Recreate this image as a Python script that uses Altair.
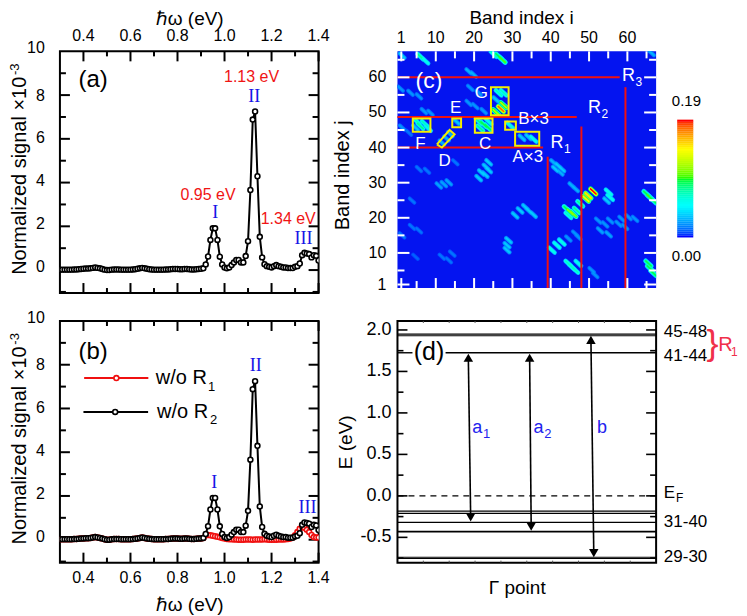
import altair as alt
import pandas as pd
import numpy as np

FONT = "Liberation Sans"
SERIF = "Liberation Serif"

# ---------- spectra (a), (b) ----------
E_START, E_COUNT = 30, 111
BASE = [.02,.02,.02,.02,.02,.02,.03,.03,.04,.05,
        .06,.07,.07,.08,.10,.12,.10,.08,.05,.02,
        .00,.00,.02,.03,.03,.03,.02,.02,.02,.02,
        .02,.03,.04,.06,.08,.10,.08,.06,.04,.03,
        .02,.02,.02,.02,.02,.03,.03,.04,.05,.05,
        .05,.04,.04,.05,.05,.04,.03,.03,.04,.05,
        .06,.08]
PEAKS = [.26,.62,1.38,1.91,1.91,1.38,.61,.26,.12,.08,
         .12,.23,.35,.46,.46,.35,.35,.64,1.32,3.66,
         6.88,7.25,4.29,1.52,.58,.27,.18,.15,.12,.18,
         .23,.18,.15,.12,.12,.09,.09,.09,.15,.18,
         .30,.68,.79,.76,.73,.58,.68,.65,.44]
RED_TAIL = [.20,.21,.20,.18,.16,.13,.11,.08,.05,.03,
            .02,.02,.01,.01,.00,.00,.00,.01,.01,.01,
            .00,.01,.01,.01,.01,.02,.01,.00,.00,.00,
            .00,.01,.01,.01,.02,.03,.06,.10,.20,.35,
            .50,.60,.55,.45,.35,.22,.12,.10,.10]
ENERGY = [(E_START + k) / 100 for k in range(E_COUNT)]
df_black = pd.DataFrame({"e": ENERGY, "v": BASE + PEAKS})
df_red = pd.DataFrame({"e": ENERGY, "v": BASE + RED_TAIL})

EV_MAJOR = [.4, .6, .8, 1.0, 1.2, 1.4]
EV_MINOR = [.5, .7, .9, 1.1, 1.3]
SIG_MAJOR = [0, 2, 4, 6, 8]
SIG_MINOR = [-1, 1, 3, 5, 7, 9]
SIG_LABELS = [0, 2, 4, 6, 8, 10]
SIG_LABEL_NUDGE = [.14, .10, .07, .03, -.03, .14]

W, H = 259, 242
H_C = 237

sx = alt.Scale(domain=[0.3, 1.4], nice=False, zero=False)
sy = alt.Scale(domain=[-1.05, 10], nice=False, zero=False)


def xtick_layers(vals, length, scale, h, color="black", width=2):
    d = pd.DataFrame({"t": vals})
    x = alt.X("t:Q", scale=scale, axis=None)
    base = alt.Chart(d).mark_rule(color=color, strokeWidth=width)
    return [base.encode(x=x, y=alt.value(0), y2=alt.value(length)),
            base.encode(x=x, y=alt.value(h), y2=alt.value(h - length))]


def ytick_layers(vals, length, scale, w, color="black", width=2):
    d = pd.DataFrame({"t": vals})
    y = alt.Y("t:Q", scale=scale, axis=None)
    base = alt.Chart(d).mark_rule(color=color, strokeWidth=width)
    return [base.encode(y=y, x=alt.value(0), x2=alt.value(length)),
            base.encode(y=y, x=alt.value(w), x2=alt.value(w - length))]


def text(xv, yv, s, sx_, sy_, size=16, color="black", font=FONT, align="center", angle=0):
    d = pd.DataFrame({"x": [xv], "y": [yv], "s": [s]})
    return alt.Chart(d).mark_text(fontSize=size, color=color, font=font, align=align,
                                  baseline="middle", angle=angle).encode(
        x=alt.X("x:Q", scale=sx_, axis=None), y=alt.Y("y:Q", scale=sy_, axis=None), text="s:N")


def series(d, color):
    x = alt.X("e:Q", scale=sx, axis=None)
    y = alt.Y("v:Q", scale=sy, axis=None)
    c = alt.Chart(d)
    return [c.mark_line(color=color, strokeWidth=2, clip=True).encode(x=x, y=y),
            c.mark_point(color=color, fill="white", filled=True, stroke=color, strokeWidth=1.6,
                         size=24, opacity=1, clip=True).encode(x=x, y=y)]


def spectrum_guides(label_v, title_v):
    out = (xtick_layers(EV_MAJOR, 10, sx, H) + xtick_layers(EV_MINOR, 5, sx, H)
           + ytick_layers(SIG_MAJOR, 10, sy, W) + ytick_layers(SIG_MINOR, 6, sy, W))
    out += [text(t, label_v, f"{t:.1f}", sx, sy, 16) for t in EV_MAJOR]
    out += [text(.236, t + n, str(t), sx, sy, 16, align="right") for t, n in zip(SIG_LABELS, SIG_LABEL_NUDGE)]
    out += [text(.852, title_v, "ℏω (eV)", sx, sy, 19),
            text(.13, 4.31, "Normalized signal ×10", sx, sy, 20, angle=270),
            text(.109, 9.18, "-3", sx, sy, 13, angle=270)]
    return out


panel_a = alt.layer(
    *spectrum_guides(10.68, 11.5), *series(df_black, "black"),
    text(.441, 8.67, "(a)", sx, sy, 24),
    text(1.115, 8.81, "1.13 eV", sx, sy, 16, "#f01414"),
    text(1.126, 7.9, "II", sx, sy, 18, "#1414e6", SERIF),
    text(.93, 3.42, "0.95 eV", sx, sy, 16, "#f01414"),
    text(.96, 2.6, "I", sx, sy, 18, "#1414e6", SERIF),
    text(1.271, 2.33, "1.34 eV", sx, sy, 16, "#f01414"),
    text(1.336, 1.41, "III", sx, sy, 18, "#1414e6", SERIF),
).properties(width=W, height=H)

legend_red = pd.DataFrame({"e": [.403, .676], "v": [7.39, 7.39]})
legend_black = pd.DataFrame({"e": [.40, .675], "v": [5.84, 5.84]})
mark_red = pd.DataFrame({"e": [.54], "v": [7.39]})
mark_black = pd.DataFrame({"e": [.535], "v": [5.84]})

panel_b = alt.layer(
    *spectrum_guides(-1.73, -2.97),
    *series(df_red, "#f01010"), *series(df_black, "black"),
    *series(legend_red, "#f01010")[:1], *series(mark_red, "#f01010")[1:],
    *series(legend_black, "black")[:1], *series(mark_black, "black")[1:],
    text(.708, 7.39, "w/o R", sx, sy, 20, align="left"),
    text(.93, 7.0, "1", sx, sy, 13, align="left"),
    text(.713, 5.84, "w/o R", sx, sy, 20, align="left"),
    text(.938, 5.45, "2", sx, sy, 13, align="left"),
    text(.441, 8.6, "(b)", sx, sy, 24),
    text(.956, 2.6, "I", sx, sy, 18, "#1414e6", SERIF),
    text(1.133, 7.92, "II", sx, sy, 18, "#1414e6", SERIF),
    text(1.353, 1.43, "III", sx, sy, 18, "#1414e6", SERIF),
).properties(width=W, height=H)

# ---------- map (c) ----------
SI = [1.2,6,7.3,25.1,26.4,27.4,66.3,18.6,19.9,.8,3.4,5.6,19,21.2,
      26.4,27.7,25.7,27.7,27,25.7,6.9,8.6,18.6,20.3,22.5,
      5.1,6,7.1,8,4.7,21.2,22.5,23.6,21.6,23.8,11.6,12.8,13.8,15.4,29.4,32.5,34.2,35.5,1.2,3,
      40.7,42,42.9,41.2,42.5,23.8,23.1,23.8,21.9,22.9,21.2,10.8,12.1,13.4,5.6,7.7,15.1,45.5,46.5,
      55.1,55.5,54.6,51.1,49.8,49.2,47.7,44.2,45.1,45.9,46.8,44.6,65,65.9,66.8,
      33.4,32,30.7,34.2,35.5,3.8,52.4,54.2,55.5,58.5,60.3,62,52.9,55.1,57.7,59.4,46.4,47.2,44.6,
      29,28.6,28.6,42.9,41.6,40.3,44.6,45.5,46.4,47.2,65.5,65.9,66.8,50.7,51.6,
      1.2,11.6,13.4,14.3,4.7,3.8,5.6]
SJ = [66.2,65.9,64.7,66.6,66,65,66.9,61.7,60.8,56.8,55.6,54.6,57,55.6,
      55.6,55.6,53.7,52.1,51,50.1,50.4,49.9,52.7,51.8,50.4,
      47.4,46.1,46.8,45.5,45.7,47.5,46.6,45.8,45.5,47.4,41.4,42.6,43.8,47.4,46.3,42.8,43,42.4,45.7,44.2,
      35.8,34.8,33.9,33.9,32.9,35.8,34.5,33.6,32.9,32.3,31.3,29.2,29.6,30.1,33.9,33.4,35.8,29.2,28.2,
      27.3,25.8,24.9,27.5,26.3,25.4,24,22.5,21.6,21.1,22.1,20.7,26.8,25.8,24.9,
      23,22.1,20.7,22.1,20.9,24.9,19.2,18.1,19.2,19.7,20.2,19.7,16.4,15.3,18.3,17.4,15.5,14.5,14.1,
      13.6,12.2,10.8,13.1,12.2,10.8,7,6,5.1,7,7,5.6,4.2,5.1,3.7,
      15,8.9,7.9,9.8,8.9,17.4,16.4]
SV = [.05,.08,.06,.07,.09,.1,.04,.04,.04,.03,.03,.03,.03,.03,
      .07,.07,.05,.12,.18,.12,.03,.03,.03,.03,.03,
      .07,.08,.07,.06,.05,.08,.09,.09,.08,.06,.04,.04,.04,.05,.06,.05,.05,.06,.03,.02,
      .04,.05,.05,.05,.04,.05,.05,.05,.05,.05,.05,.035,.035,.035,.02,.02,.02,.04,.04,
      .06,.06,.05,.19,.15,.14,.08,.09,.11,.11,.08,.07,.09,.1,.09,
      .05,.05,.05,.05,.05,.02,.03,.03,.03,.03,.03,.03,.035,.035,.03,.03,.03,.03,.03,
      .05,.05,.05,.06,.06,.06,.07,.07,.07,.06,.09,.09,.09,.03,.03,
      .02,.02,.02,.02,.015,.02,.02]

CMAP_STOPS = [0, .05, .095, .143, .19]
CMAP_COLORS = ["#0000ff", "#00ffff", "#00ff00", "#ffff00", "#ff0000"]
cscale = alt.Scale(domain=CMAP_STOPS, range=CMAP_COLORS, clamp=True)

si = alt.Scale(domain=[0, 67.5], nice=False, zero=False)
sj = alt.Scale(domain=[0, 67.4], nice=False, zero=False)
I_TICKS = [1, 10, 20, 30, 40, 50, 60]
IJ_MINOR = [5, 15, 25, 35, 45, 55, 65]

rows = []
for i0, j0, v0 in zip(SI, SJ, SV):
    shown = v0 * (.72 if v0 <= .05 else 1)
    half = .62 if v0 <= .05 else .72
    for frac, w in ((.45, 5), (.75, 3.4), (1.0, 1.6)):
        rows.append(dict(x1=i0 - half, x2=i0 + half, y1=j0 + half, y2=j0 - half, v=shown * frac,
                         w=w * (.75 + min(v0, .1) * 2.5), o=frac))
streaks = pd.DataFrame(rows).sort_values("o", kind="stable")

bg = pd.DataFrame({"a": [0], "b": [67.5], "c": [0], "d": [67.4]})
bg_layer = alt.Chart(bg).mark_rect(color="#0414f0").encode(
    x=alt.X("a:Q", scale=si, axis=None), x2="b:Q",
    y=alt.Y("c:Q", scale=sj, axis=None), y2="d:Q")

streak_layer = alt.Chart(streaks).mark_rule(strokeCap="round", clip=True).encode(
    x=alt.X("x1:Q", scale=si, axis=None), x2="x2:Q",
    y=alt.Y("y1:Q", scale=sj, axis=None), y2="y2:Q",
    color=alt.Color("v:Q", scale=cscale, legend=None),
    strokeWidth=alt.StrokeWidth("w:Q", scale=None))

RED_H = [(60, 58), (48.7, 46.8), (40, 38)]
RED_V = [(39.2, 37.4), (48, 46), (59.5, 57.2)]
rh = pd.DataFrame({"j": [r[0] for r in RED_H], "end": [r[1] for r in RED_H], "s": [0] * 3})
rv = pd.DataFrame({"i": [r[0] for r in RED_V], "top": [r[1] for r in RED_V], "s": [0] * 3})
rh_layer = alt.Chart(rh).mark_rule(color="#f01010", strokeWidth=2).encode(
    x=alt.X("s:Q", scale=si, axis=None), x2="end:Q", y=alt.Y("j:Q", scale=sj, axis=None))
rv_layer = alt.Chart(rv).mark_rule(color="#f01010", strokeWidth=2).encode(
    x=alt.X("i:Q", scale=si, axis=None), y=alt.Y("s:Q", scale=sj, axis=None), y2="top:Q")

BOX_L = [4.0, 20.2, 14.3, 24.4, 28.1, 30.7]
BOX_R = [8.6, 24.8, 16.6, 29.0, 30.9, 37.0]
BOX_T = [48.3, 48.3, 48.3, 57.2, 47.4, 44.5]
BOX_B = [44.5, 44.2, 45.8, 49.2, 45.1, 40.5]
boxes = pd.DataFrame({"l": BOX_L, "r": BOX_R, "t": BOX_T, "b": BOX_B})
box_layer = alt.Chart(boxes).mark_rect(fillOpacity=0, stroke="#f5ee00", strokeWidth=2).encode(
    x=alt.X("l:Q", scale=si, axis=None), x2="r:Q", y=alt.Y("b:Q", scale=sj, axis=None), y2="t:Q")
D_I = [10.3, 11.6, 14.9, 13.6, 10.3]
D_J = [40.9, 40.0, 43.8, 45.0, 40.9]
d_box = pd.DataFrame({"i": D_I, "j": D_J, "o": range(5)})
d_layer = alt.Chart(d_box).mark_line(color="#f5ee00", strokeWidth=2).encode(
    x=alt.X("i:Q", scale=si, axis=None), y=alt.Y("j:Q", scale=sj, axis=None), order="o:O")

bar_levels = list(np.linspace(0, .19, 60))
bar = pd.DataFrame({"v": bar_levels})
bar["a"] = 73.0
bar["b"] = 77.2
bar["lo"] = 14.4 + (47.9 - 14.4) * bar.index / 60
bar["hi"] = 14.4 + (47.9 - 14.4) * (bar.index + 1.1) / 60
bar_layer = alt.Chart(bar).mark_rect().encode(
    x=alt.X("a:Q", scale=si, axis=None), x2="b:Q",
    y=alt.Y("lo:Q", scale=sj, axis=None), y2="hi:Q",
    color=alt.Color("v:Q", scale=cscale, legend=None))


def wtext(i, j, s, size=17):
    return text(i, j, s, si, sj, size, "white")


panel_c = alt.layer(
    bg_layer, streak_layer, rh_layer, rv_layer, box_layer, d_layer, bar_layer,
    *xtick_layers(I_TICKS, 10, si, H_C, "white", 2), *xtick_layers(IJ_MINOR, 7, si, H_C, "white", 2),
    *ytick_layers(I_TICKS, 12, sj, W, "white", 2), *ytick_layers(IJ_MINOR, 7, sj, W, "white", 2),
    *[text(t, 71.2, str(t), si, sj, 16) for t in I_TICKS],
    *[text(-2.9, t, str(t), si, sj, 16, align="right") for t in I_TICKS],
    text(32.4, 77, "Band index i", si, sj, 19),
    text(-14.3, 32.1, "Band index j", si, sj, 20, angle=270),
    wtext(8.2, 59, "(c)", 23), wtext(21.9, 55.4, "G"), wtext(15.2, 51.3, "E"), wtext(6.0, 41.1, "F"),
    wtext(12.3, 36.3, "D"), wtext(22.9, 40.9, "C"), wtext(35.5, 48.2, "B×3"), wtext(34, 37.4, "A×3"),
    wtext(41.6, 41.4, "R", 18), wtext(44.3, 39.6, "1", 12), wtext(51.4, 51.3, "R", 18), wtext(54.1, 49.5, "2", 12),
    wtext(60.3, 60.3, "R", 18), wtext(63, 58.7, "3", 12),
    text(75.4, 53.2, "0.19", si, sj, 15), text(75.4, 9, "0.00", si, sj, 15),
).properties(width=W, height=H_C, view=alt.ViewConfig(stroke=None))

# ---------- levels (d) ----------
sdx = alt.Scale(domain=[0, 1], nice=False, zero=False)
sdy = alt.Scale(domain=[-0.805, 2.108], nice=False, zero=False)
LEVELS = [1.95, 1.93, -0.185, -0.21, -0.32, -0.43, -0.74, -0.755]
LEVEL_W = [1.2, 1.2, 1.2, 1.2, 1.2, 1.8, 1.0, 1.0]
E_MAJOR = [-.5, 0, .5, 1, 1.5, 2]
E_MINOR = [-.75, -.25, .25, .75, 1.25, 1.75]
X_MINOR = [.1, .2, .3, .4, .5, .6, .7, .8, .9]

lv = pd.DataFrame({"E": LEVELS, "w": LEVEL_W, "a": [0] * len(LEVELS), "b": [1] * len(LEVELS)})
lv_layer = alt.Chart(lv).mark_rule(color="black").encode(
    x=alt.X("a:Q", scale=sdx, axis=None), x2="b:Q",
    y=alt.Y("E:Q", scale=sdy, axis=None),
    strokeWidth=alt.StrokeWidth("w:Q", scale=None))
seg = pd.DataFrame({"E": [1.725, 1.725], "a": [0, .186], "b": [.058, 1]})
seg_layer = alt.Chart(seg).mark_rule(color="black", strokeWidth=1.4).encode(
    x=alt.X("a:Q", scale=sdx, axis=None), x2="b:Q", y=alt.Y("E:Q", scale=sdy, axis=None))
dash = pd.DataFrame({"E": [0], "a": [0], "b": [1]})
dash_layer = alt.Chart(dash).mark_rule(color="black", strokeWidth=1.4, strokeDash=[6, 5]).encode(
    x=alt.X("a:Q", scale=sdx, axis=None), x2="b:Q", y=alt.Y("E:Q", scale=sdy, axis=None))

ARROW_XT = [.274, .511, .748]
ARROW_XB = [.283, .517, .759]
ARROW_ET = [1.725, 1.725, 1.94]
ARROW_EB = [-.32, -.43, -.75]
arrows = pd.DataFrame({"xt": ARROW_XT, "xb": ARROW_XB, "et": ARROW_ET, "eb": ARROW_EB})
arrows["et_h"] = arrows.et - .06
arrows["eb_h"] = arrows.eb + .06
arrow_layer = alt.Chart(arrows).mark_rule(color="black", strokeWidth=1.6).encode(
    x=alt.X("xt:Q", scale=sdx, axis=None), x2="xb:Q",
    y=alt.Y("et_h:Q", scale=sdy, axis=None), y2="eb_h:Q")
head_up = alt.Chart(arrows).mark_point(shape="triangle-up", filled=True, color="black", size=90, opacity=1).encode(
    x=alt.X("xt:Q", scale=sdx, axis=None), y=alt.Y("et_h:Q", scale=sdy, axis=None))
head_dn = alt.Chart(arrows).mark_point(shape="triangle-down", filled=True, color="black", size=90, opacity=1).encode(
    x=alt.X("xb:Q", scale=sdx, axis=None), y=alt.Y("eb_h:Q", scale=sdy, axis=None))


def dtext(x, y, s, size=16, color="black", align="left", angle=0):
    return text(x, y, s, sdx, sdy, size, color, align=align, angle=angle)


BLUE = "#2222ee"
CRIM = "#f0304a"
panel_d = alt.layer(
    lv_layer, seg_layer, dash_layer, arrow_layer, head_up, head_dn,
    *ytick_layers(E_MAJOR, 10, sdy, W, "black", 1.6), *ytick_layers(E_MINOR, 6, sdy, W, "black", 1.6),
    *xtick_layers(X_MINOR, 2, sdx, H, "#555555", 1),
    *[dtext(-.023, t, f"{t:.1f}", 18, align="right") for t in E_MAJOR],
    dtext(-.20, .646, "E (eV)", 19, align="center", angle=270),
    dtext(.463, -1.11, "Γ point", 19, align="center"),
    dtext(.122, 1.74, "(d)", 25, align="center"),
    dtext(.308, .817, "a", 18, BLUE, "center"), dtext(.345, .75, "1", 13, BLUE, "center"),
    dtext(.545, .817, "a", 18, BLUE, "center"), dtext(.581, .75, "2", 13, BLUE, "center"),
    dtext(.791, .817, "b", 18, BLUE, "center"),
    dtext(1.03, 1.98, "45-48", 17), dtext(1.03, 1.687, "41-44", 17),
    dtext(1.03, .03, "E", 17), dtext(1.077, -.03, "F", 12),
    dtext(1.03, -.315, "31-40", 17), dtext(1.03, -.735, "29-30", 17),
    dtext(1.218, 1.83, "}", 36, CRIM, "center"),
    dtext(1.24, 1.82, "R", 20, CRIM), dtext(1.29, 1.73, "1", 12, CRIM),
).properties(width=W, height=H)

chart = alt.concat(panel_a, panel_c, panel_b, panel_d, columns=2,
                   spacing={"row": 28, "column": 79}, bounds="flush").configure_view(
    stroke="black", strokeWidth=2).properties(
    background="white", padding={"left": 0, "top": 0, "right": 0, "bottom": 0})

chart.save("out.html", embed_options={"renderer": "svg", "actions": False})
